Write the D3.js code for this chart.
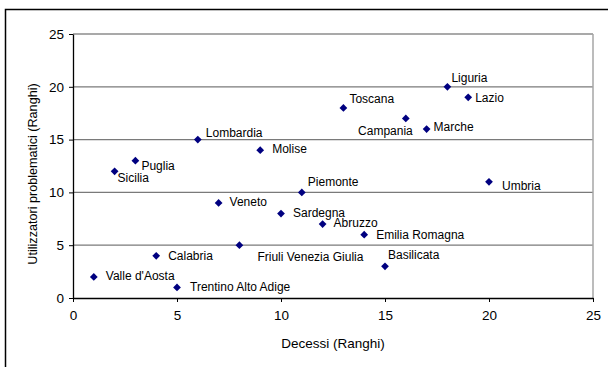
<!DOCTYPE html>
<html>
<head>
<meta charset="utf-8">
<script src="https://cdn.jsdelivr.net/npm/d3@7"></script>
<style>
  body { margin: 0; background: #fff; }
  svg { display: block; font-family: "Liberation Sans", Arial, sans-serif; }
</style>
</head>
<body>
<svg></svg>
<script>
// regions with their ranks
const regions = ["Valle d'Aosta", "Trentino Alto Adige", "Calabria", "Friuli Venezia Giulia", "Veneto",
  "Sardegna", "Abruzzo", "Emilia Romagna", "Basilicata", "Piemonte", "Umbria", "Sicilia", "Puglia",
  "Lombardia", "Molise", "Toscana", "Campania", "Marche", "Liguria", "Lazio"];
const decessi =    [1, 5, 4, 8, 7, 10, 12, 14, 15, 11, 20, 2, 3, 6, 9, 13, 16, 17, 18, 19];
const utilizzatori = [2, 1, 4, 5, 9, 8, 7, 6, 3, 10, 11, 12, 13, 15, 14, 18, 17, 16, 20, 19];
const ticks = [0, 5, 10, 15, 20, 25];

// label placement (pixel offset from the marker), like the hand-moved labels in the original
const labelOffsets = {
  "Valle d'Aosta": [12, 3], "Trentino Alto Adige": [13, 4], "Calabria": [12, 4],
  "Friuli Venezia Giulia": [18, 16], "Veneto": [11, 3], "Sardegna": [12, 3], "Abruzzo": [11, 3],
  "Emilia Romagna": [12, 4], "Basilicata": [3, -7], "Piemonte": [6, -6], "Umbria": [13, 8],
  "Sicilia": [3, 11], "Puglia": [6, 9], "Lombardia": [8, -3], "Molise": [12, 3], "Toscana": [6, -5],
  "Campania": [7, 17, "end"], "Marche": [7, 2], "Liguria": [4, -5], "Lazio": [7, 5]
};

const w = 608, h = 367;
const plotL = 73, plotR = 593, plotT = 34, plotB = 298;

const svg = d3.select("svg").attr("width", w).attr("height", h);

// outer chart frame (only top and left edges show in the crop)
svg.append("path")
   .attr("d", "M5.5," + h + " V9.5 H" + w)
   .attr("fill", "none")
   .attr("stroke", "#000")
   .attr("stroke-width", 1.5);

const x = d3.scaleLinear().domain([0, 25]).range([plotL, plotR]);
const y = d3.scaleLinear().domain([0, 25]).range([plotB, plotT]);

// grid lines
svg.append("g")
   .selectAll("line")
   .data(ticks.filter(t => t > 0))
   .enter()
   .append("line")
   .attr("x1", plotL).attr("x2", plotR)
   .attr("y1", d => y(d)).attr("y2", d => y(d))
   .attr("stroke", d => d == 25 ? "#8c8c8c" : "#7a7a7a")
   .attr("stroke-width", 1.3);

// right edge of plot area
svg.append("line")
   .attr("x1", plotR).attr("x2", plotR)
   .attr("y1", plotT).attr("y2", plotB)
   .attr("stroke", "#a6a6a6")
   .attr("stroke-width", 1.5);

const xAxis = d3.axisBottom(x).tickValues(ticks).tickSizeInner(4).tickSizeOuter(0).tickPadding(8);
const yAxis = d3.axisLeft(y).tickValues(ticks).tickSizeInner(4).tickSizeOuter(0).tickPadding(5);

const gx = svg.append("g")
   .attr("transform", "translate(0," + plotB + ")")
   .call(xAxis);
const gy = svg.append("g")
   .attr("transform", "translate(" + plotL + ",0)")
   .call(yAxis);

[gx, gy].forEach(g => {
  g.select(".domain").attr("stroke", "#000").attr("stroke-width", 1.3);
  g.selectAll(".tick line").attr("stroke", "#000");
  g.selectAll(".tick text")
   .attr("fill", "#000")
   .style("font-size", "13.5px")
   .style("font-family", "'Liberation Sans', Arial, sans-serif");
});

// axis titles
svg.append("text")
   .attr("x", (plotL + plotR) / 2)
   .attr("y", 348)
   .attr("text-anchor", "middle")
   .style("font-size", "13.5px")
   .text("Decessi (Ranghi)");

svg.append("text")
   .attr("transform", "translate(37," + 174 + ") rotate(-90)")
   .attr("text-anchor", "middle")
   .style("font-size", "12.6px")
   .text("Utilizzatori problematici (Ranghi)");

const points = regions.map((r, i) => ({ name: r, d: decessi[i], u: utilizzatori[i] }));

// markers: diamonds
svg.append("g")
   .selectAll("path")
   .data(points)
   .enter()
   .append("path")
   .attr("d", d3.symbol().type(d3.symbolSquare).size(30))
   .attr("transform", d => "translate(" + x(d.d) + "," + y(d.u) + ") rotate(45)")
   .attr("fill", "#000080");

// data labels
svg.append("g")
   .selectAll("text")
   .data(points)
   .enter()
   .append("text")
   .attr("x", d => x(d.d) + labelOffsets[d.name][0])
   .attr("y", d => y(d.u) + labelOffsets[d.name][1])
   .attr("text-anchor", d => labelOffsets[d.name][2] || "start")
   .style("font-size", "12px")
   .attr("fill", "#000")
   .text(d => d.name);
</script>
</body>
</html>
